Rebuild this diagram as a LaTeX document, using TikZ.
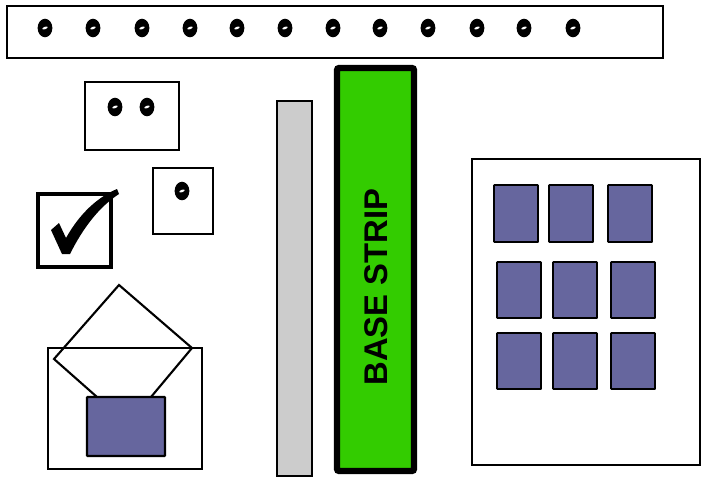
\documentclass[tikz,border=0pt]{standalone}
\usepackage{fontspec}
\setmainfont{Liberation Sans}
\usepackage{tikz}

\definecolor{tileblue}{RGB}{102,102,158}
\definecolor{stripgreen}{RGB}{51,204,0}
\definecolor{railgray}{RGB}{204,204,204}

\newcommand{\hole}[1]{%
  \fill #1 ellipse [x radius=6.3pt, y radius=7.9pt];
  \fill[white,rotate around={20:#1}] #1 ellipse [x radius=2.4pt, y radius=1pt];}

\begin{document}
\begin{tikzpicture}[x=0.03cm,y=-0.03cm,
    panel/.style={draw,line width=1.8pt},
    tile/.style={draw,fill=tileblue,line width=1.6pt,rounded corners=0.5pt}]

        \useasboundingbox (0,0) rectangle (702,477);

        % top strip with holes
        \draw[panel] (7,6) rectangle (663,58);
        \foreach \hx in {45,93,142,190,237,285,333,380,428,477,524,573}
          {\hole{(\hx,28)}}

        % small boxes
        \draw[panel] (85,82) rectangle (179,150);
        \hole{(115,107)}
        \hole{(147,107)}
        \draw[panel] (153,168) rectangle (213,234);
        \hole{(182,191)}

        % check box
        \draw[line width=3.4pt] (38,194) rectangle (111,267);
        \fill (51,230) -- (59,223) -- (66,238) .. controls (80,213) and (98,197) .. (117,189)
              -- (119,194) .. controls (99,207) and (83,228) .. (70,254) -- (62,254) -- cycle;

        % envelope
        \draw[panel] (48,348) rectangle (202,469);
        \draw[panel] (97,397) -- (54,359) -- (119,285) -- (192,348) -- (151,397);
        \draw[tile,line width=1.8pt] (87,397) rectangle (165,456);

        % rails
        \draw[fill=railgray,line width=1.6pt] (277,101) rectangle (312,476);
        \draw[fill=stripgreen,line width=5.5pt,rounded corners=2pt] (337,68) rectangle (414,471);
        \node[rotate=90,font=\fontsize{28}{30}\selectfont\bfseries] (strip) at (376,287) {BASE STRIP};

        % right panel with tiles
        \draw[panel] (472,159) rectangle (700,465);
        \foreach \tx in {494,549,608}
          \draw[tile] (\tx,185) rectangle ++(44,57);
        \foreach \ty in {262,333}
          \foreach \tx in {497,553,611}
            \draw[tile] (\tx,\ty) rectangle ++(44,56);
      \end{tikzpicture}
\end{document}
